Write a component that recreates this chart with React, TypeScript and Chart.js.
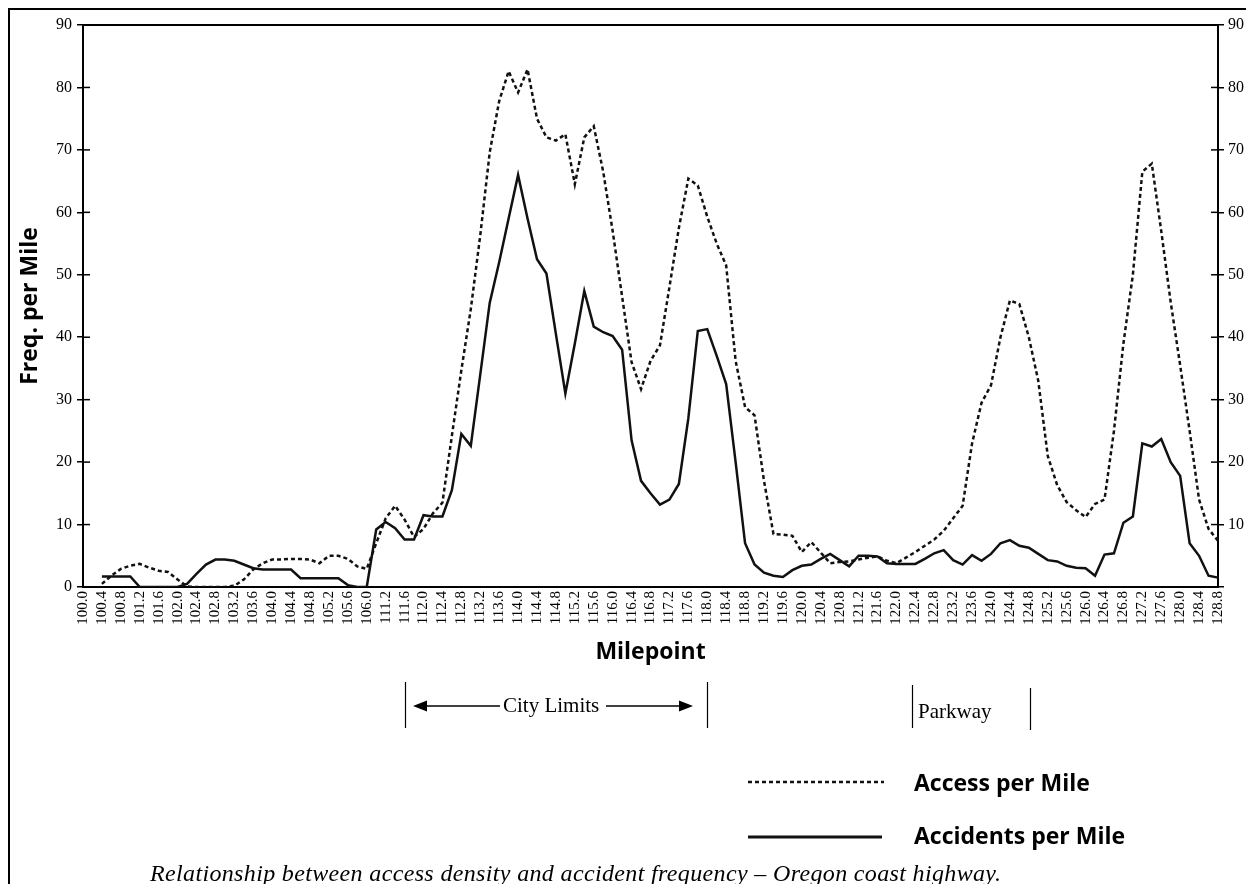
import React, { useEffect, useRef } from "react";
import { Chart, registerables } from "chart.js";

Chart.register(...registerables);

// Milepoints every 0.2 mile (only every other one is printed on the axis)
const milepoints = [
  "100.0", "100.2", "100.4", "100.6", "100.8", "101.0", "101.2", "101.4", "101.6", "101.8",
  "102.0", "102.2", "102.4", "102.6", "102.8", "103.0", "103.2", "103.4", "103.6", "103.8",
  "104.0", "104.2", "104.4", "104.6", "104.8", "105.0", "105.2", "105.4", "105.6", "105.8",
  "106.0", "111.0", "111.2", "111.4", "111.6", "111.8", "112.0", "112.2", "112.4", "112.6",
  "112.8", "113.0", "113.2", "113.4", "113.6", "113.8", "114.0", "114.2", "114.4", "114.6",
  "114.8", "115.0", "115.2", "115.4", "115.6", "115.8", "116.0", "116.2", "116.4", "116.6",
  "116.8", "117.0", "117.2", "117.4", "117.6", "117.8", "118.0", "118.2", "118.4", "118.6",
  "118.8", "119.0", "119.2", "119.4", "119.6", "119.8", "120.0", "120.2", "120.4", "120.6",
  "120.8", "121.0", "121.2", "121.4", "121.6", "121.8", "122.0", "122.2", "122.4", "122.6",
  "122.8", "123.0", "123.2", "123.4", "123.6", "123.8", "124.0", "124.2", "124.4", "124.6",
  "124.8", "125.0", "125.2", "125.4", "125.6", "125.8", "126.0", "126.2", "126.4", "126.6",
  "126.8", "127.0", "127.2", "127.4", "127.6", "127.8", "128.0", "128.2", "128.4", "128.6",
  "128.8",
];

const accessPerMile = [
  null, null, 0.5, 1.8, 2.9, 3.4, 3.7, 3.1, 2.6, 2.4,
  1.2, 0.1, 0, 0, 0, 0, 0.2, 1.2, 2.8, 3.8,
  4.4, 4.4, 4.5, 4.5, 4.4, 3.8, 5.0, 5.0, 4.5, 3.3,
  2.9, 7, 11, 13.0, 10.8, 8.0, 9.3, 11.8, 13.5, 24.2,
  34.7, 44.5, 56.3, 69.6, 77.8, 82.6, 79.2, 82.9, 75, 72,
  71.5, 72.5, 64.5, 72, 73.8, 66.5, 57, 46.5, 36, 31.7,
  36.2, 38.7, 48, 57.5, 65.4, 64.3, 59.3, 55, 51.5, 36.2,
  28.8, 27.5, 17, 8.5, 8.4, 8.2, 5.6, 7.2, 5.5, 3.8,
  4.0, 4.1, 4.4, 4.7, 4.9, 4.2, 3.8, 4.7, 5.6, 6.6,
  7.6, 9.0, 11.0, 13.0, 23, 29.5, 32.3, 40, 45.9, 45.3,
  40, 33, 21, 16.3, 13.6, 12.3, 11.2, 13.3, 14, 25,
  39, 50, 66.5, 67.8, 57, 45.6, 35.5, 25, 14, 9.3,
  7.4,
];

const accidentsPerMile = [
  null, null, 1.7, 1.7, 1.7, 1.7, 0, 0, 0, 0,
  0, 0.5, 2.1, 3.6, 4.4, 4.4, 4.2, 3.6, 3.0, 2.8,
  2.8, 2.8, 2.8, 1.4, 1.4, 1.4, 1.4, 1.4, 0.3, 0,
  0, 9.2, 10.4, 9.4, 7.6, 7.6, 11.5, 11.3, 11.3, 15.5,
  24.5, 22.6, 34, 45.5, 52, 59, 66, 59, 52.5, 50.2,
  40.5, 31, 39, 47.4, 41.7, 40.8, 40.2, 38, 23.5, 17,
  15, 13.2, 14, 16.5, 27, 41, 41.3, 37, 32.5, 20,
  7, 3.6, 2.3, 1.8, 1.6, 2.7, 3.4, 3.6, 4.5, 5.3,
  4.3, 3.3, 5.0, 5.0, 4.9, 3.8, 3.7, 3.7, 3.7, 4.5,
  5.4, 5.9, 4.3, 3.6, 5.1, 4.2, 5.3, 7.0, 7.5, 6.6,
  6.3, 5.3, 4.3, 4.1, 3.4, 3.1, 3.0, 1.8, 5.2, 5.4,
  10.3, 11.3, 23, 22.5, 23.7, 20, 17.8, 7, 5, 1.8,
  1.5,
];

const yMin = 0;
const yMax = 90;
const yStep = 10;

const SERIF = '"Liberation Serif", "Times New Roman", serif';
const SANS = '"Open Sans", "Noto Sans", sans-serif';

const innerTicks = {
  id: "innerTicks",
  afterDraw(chart: any) {
    const ctx = chart.ctx;
    ["y", "y2"].forEach((id) => {
      const s = chart.scales[id];
      if (!s) return;
      const dir = id === "y" ? 1 : -1;
      const x0 = id === "y" ? s.right : s.left;
      ctx.save();
      ctx.strokeStyle = "#000";
      ctx.lineWidth = 1.5;
      s.ticks.forEach((_t: any, i: number) => {
        const y = s.getPixelForTick(i);
        ctx.beginPath();
        ctx.moveTo(x0, y);
        ctx.lineTo(x0 + dir * 7, y);
        ctx.stroke();
      });
      ctx.restore();
    });
  },
};

function Txt(props: { x: number; cy: number; h: number; style?: React.CSSProperties; children: React.ReactNode }) {
  return (
    <div
      style={{
        position: "absolute",
        left: props.x,
        top: props.cy - props.h / 2,
        height: props.h,
        lineHeight: props.h + "px",
        whiteSpace: "nowrap",
        color: "#000",
        ...props.style,
      }}
    >
      {props.children}
    </div>
  );
}

export default function App() {
  const canvasRef = useRef<HTMLCanvasElement | null>(null);

  useEffect(() => {
    if (!canvasRef.current) return;
    const chart = new Chart(canvasRef.current, {
      type: "line",
      data: {
        labels: milepoints,
        datasets: [
          {
            label: "Access per Mile",
            data: accessPerMile,
            borderColor: "#111",
            borderWidth: 2.5,
            borderDash: [4, 3],
            pointRadius: 0,
            tension: 0,
            fill: false,
          },
          {
            label: "Accidents per Mile",
            data: accidentsPerMile,
            borderColor: "#111",
            borderWidth: 2.5,
            pointRadius: 0,
            tension: 0,
            fill: false,
          },
        ],
      },
      options: {
        responsive: false,
        animation: false,
        events: [],
        layout: { padding: { top: 17, left: 0, right: 0, bottom: 0 } },
        plugins: {
          legend: { display: false },
          tooltip: { enabled: false },
          title: { display: false },
        },
        scales: {
          x: {
            type: "category",
            position: "bottom",
            offset: false,
            grid: { display: false, drawTicks: false },
            border: { display: true, color: "#000", width: 2 },
            ticks: {
              autoSkip: false,
              maxRotation: 90,
              minRotation: 90,
              padding: 4,
              color: "#000",
              font: { family: SERIF, size: 15 },
              callback: (_v: any, index: number) => (index % 2 === 0 ? milepoints[index] : ""),
            },
            title: {
              display: true,
              text: "Milepoint",
              color: "#000",
              font: { family: SANS, weight: "bold", size: 23 },
              padding: { top: 0, bottom: 12 },
            },
            afterFit: (s: any) => {
              s.height = 91;
            },
          } as any,
          x2: {
            type: "linear",
            position: "top",
            min: 0,
            max: 1,
            display: true,
            grid: { display: false, drawTicks: false },
            ticks: { display: false },
            border: { display: true, color: "#000", width: 2 },
            afterFit: (s: any) => {
              s.height = 0;
            },
          } as any,
          y: {
            position: "left",
            min: yMin,
            max: yMax,
            ticks: {
              stepSize: yStep,
              color: "#000",
              padding: 5,
              font: { family: SERIF, size: 16 },
            },
            grid: {
              drawOnChartArea: false,
              drawTicks: true,
              tickLength: 6,
              color: "#000",
              lineWidth: 1.5,
            },
            border: { display: true, color: "#000", width: 2 },
            title: {
              display: true,
              text: "Freq. per Mile",
              color: "#000",
              font: { family: SANS, weight: "bold", size: 23 },
              padding: { top: 9, bottom: 0 },
            },
            afterFit: (s: any) => {
              s.width = 75;
            },
          } as any,
          y2: {
            position: "right",
            min: yMin,
            max: yMax,
            display: true,
            ticks: {
              stepSize: yStep,
              color: "#000",
              padding: 4,
              font: { family: SERIF, size: 16 },
              callback: (v: any) => (v === 0 ? "" : String(v)),
            },
            grid: {
              drawOnChartArea: false,
              drawTicks: true,
              tickLength: 6,
              color: "#000",
              lineWidth: 1.5,
            },
            border: { display: true, color: "#000", width: 2 },
            afterFit: (s: any) => {
              s.width = 34;
            },
          } as any,
        },
      },
      plugins: [innerTicks],
    });
    return () => chart.destroy();
  }, []);

  return (
    <div style={{ position: "relative", width: 1244, height: 876, overflow: "hidden", background: "#fff" }}>
      <div
        style={{
          position: "absolute",
          left: 0,
          top: 0,
          width: 1244,
          height: 900,
          boxSizing: "border-box",
          borderTop: "2px solid #000",
          borderLeft: "2px solid #000",
          borderRight: "2px solid #000",
        }}
      />
      <canvas
        ref={canvasRef}
        width={1244}
        height={670}
        style={{ position: "absolute", left: 0, top: 0, width: 1244, height: 670 }}
      />
      <svg
        width={1244}
        height={876}
        style={{ position: "absolute", left: 0, top: 0, pointerEvents: "none" }}
      >
        {/* City limits */}
        <line x1={397.5} y1={674} x2={397.5} y2={720} stroke="#000" strokeWidth={1.2} />
        <line x1={699.5} y1={674} x2={699.5} y2={720} stroke="#000" strokeWidth={1.2} />
        <line x1={412} y1={698} x2={492} y2={698} stroke="#000" strokeWidth={1.3} />
        <polygon points="405,698 419,692.5 419,703.5" fill="#000" />
        <line x1={598} y1={698} x2={678} y2={698} stroke="#000" strokeWidth={1.3} />
        <polygon points="685,698 671,692.5 671,703.5" fill="#000" />
        {/* Parkway */}
        <line x1={904.5} y1={677} x2={904.5} y2={720} stroke="#000" strokeWidth={1.2} />
        <line x1={1022.5} y1={680} x2={1022.5} y2={722} stroke="#000" strokeWidth={1.2} />
        {/* Legend */}
        <line x1={740} y1={774} x2={876} y2={774} stroke="#111" strokeWidth={2.5} strokeDasharray="4 3" />
        <line x1={740} y1={829} x2={874} y2={829} stroke="#111" strokeWidth={3} />
      </svg>
      <Txt x={495} cy={697} h={24} style={{ fontFamily: SERIF, fontSize: 21 }}>
        City Limits
      </Txt>
      <Txt x={910} cy={703} h={24} style={{ fontFamily: SERIF, fontSize: 21 }}>
        Parkway
      </Txt>
      <Txt x={906} cy={774} h={30} style={{ fontFamily: SANS, fontSize: 23, fontWeight: 700 }}>
        Access per Mile
      </Txt>
      <Txt x={906} cy={827} h={30} style={{ fontFamily: SANS, fontSize: 23, fontWeight: 700 }}>
        Accidents per Mile
      </Txt>
      <Txt x={142} cy={865} h={28} style={{ fontFamily: SERIF, fontSize: 24, fontStyle: "italic", letterSpacing: 0.35 }}>
        Relationship between access density and accident frequency – Oregon coast highway.
      </Txt>
    </div>
  );
}
